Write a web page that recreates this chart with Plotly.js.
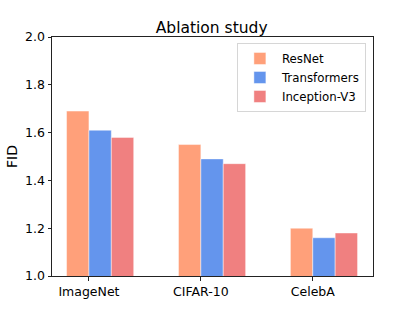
<!DOCTYPE html>
<html>
<head>
<meta charset="utf-8">
<script src="https://cdn.plot.ly/plotly-3.0.1.min.js"></script>
<style>html,body{margin:0;padding:0;background:#fff;}#chart{width:415px;height:311px;}</style>
</head>
<body>
<div id="chart"></div>
<script>
const categories = ["ImageNet", "CIFAR-10", "CelebA"];
const seriesNames = ["ResNet", "Transformers", "Inception-V3"];
const resnet = [1.69, 1.55, 1.20];
const transformers = [1.61, 1.49, 1.16];
const inception = [1.58, 1.47, 1.18];
const colors = ["#FFA07A", "#6495ED", "#F08080"];
const yTicks = [1.0, 1.2, 1.4, 1.6, 1.8, 2.0];
const yTickLabels = ["1.0", "1.2", "1.4", "1.6", "1.8", "2.0"];

const font = "DejaVu Sans, sans-serif";
const values = [resnet, transformers, inception];
const barWidth = 0.2;
const offsets = [-0.2, 0, 0.2];
const data = values.map((v, i) => ({
  type: "bar",
  name: seriesNames[i],
  x: categories,
  y: v,
  width: barWidth,
  offset: offsets[i],
  marker: {color: colors[i], line: {color: "rgba(255,255,255,0.45)", width: 1}},
  hoverinfo: "none"
}));

const layout = {
  width: 415, height: 311,
  margin: {l: 52, r: 42, t: 37, b: 35},
  paper_bgcolor: "#fff", plot_bgcolor: "#fff",
  barmode: "overlay",
  title: {text: "Ablation study", font: {family: font, size: 15.5, color: "#000"}, x: 0.51, xanchor: "center", y: 0.91, yanchor: "middle"},
  font: {family: font, color: "#000"},
  xaxis: {
    type: "category", range: [-0.33, 2.538],
    showline: true, linecolor: "#222", linewidth: 1, mirror: true,
    ticks: "outside", ticklen: 3.5, tickcolor: "#222", showgrid: false, zeroline: false,
    tickfont: {family: font, size: 12.5, color: "#000"}
  },
  yaxis: {
    range: [1.0, 2.0], tickvals: yTicks, ticktext: yTickLabels,
    showline: true, linecolor: "#222", linewidth: 1, mirror: true,
    ticks: "outside", ticklen: 3.5, tickcolor: "#222", showgrid: false, zeroline: false,
    tickfont: {family: font, size: 12.5, color: "#000"},
    title: {text: "FID", font: {family: font, size: 14, color: "#000"}, standoff: 4}
  },
  legend: {
    x: 0.576, y: 0.975, xanchor: "left", yanchor: "top",
    bgcolor: "rgba(255,255,255,0.8)", bordercolor: "#d6d6d6", borderwidth: 1,
    font: {family: font, size: 11.8, color: "#000"}, tracegroupgap: 0,
    itemwidth: 34
  },
  showlegend: true
};

Plotly.newPlot("chart", data, layout, {displayModeBar: false, staticPlot: true});
</script>
</body>
</html>
